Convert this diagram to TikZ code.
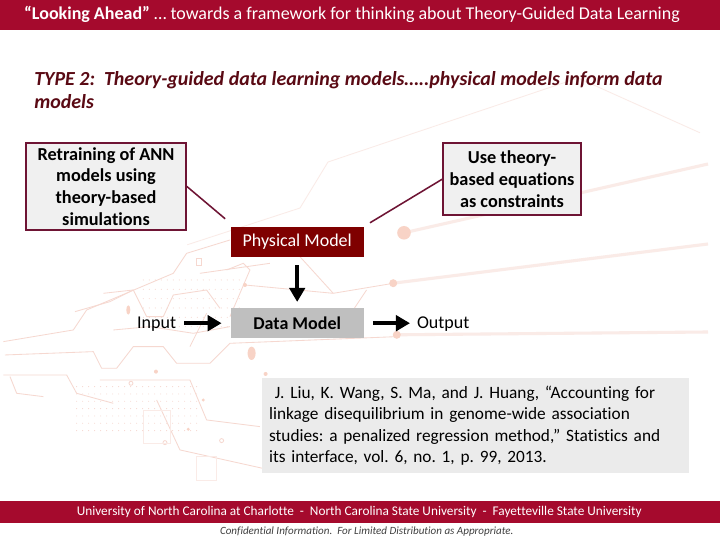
\documentclass[tikz,border=0pt]{standalone}
\usepackage{fontspec}
\setmainfont{Carlito}[Ligatures=NoCommon]
\usetikzlibrary{arrows.meta,positioning}
\definecolor{bandred}{HTML}{A50A2D}
\definecolor{deepred}{HTML}{7F0000}
\definecolor{boxline}{HTML}{6E1434}
\definecolor{typered}{HTML}{5A0A14}
\definecolor{tracepink}{HTML}{F6D8D0}
\definecolor{tracepale}{HTML}{FAEBE7}
\definecolor{padpink}{HTML}{F8D3C6}
\tikzset{
    notebox/.style={draw=boxline,line width=1.1pt,fill=black!6,align=center,font=\bfseries\fontsize{13}{15.4}\selectfont,inner sep=0pt},
    modelbox/.style={minimum width=3.325cm,minimum height=0.75cm,inner sep=0pt,font=\fontsize{12.8}{14}\selectfont},
    plainlabel/.style={font=\fontsize{12.8}{14}\selectfont,inner sep=0pt,text height=8.2pt,text depth=0pt},
    fatarrow/.style={line width=2.6pt,-{Triangle[length=10pt,width=11pt]}},
    noteline/.style={draw=boxline,line width=1.1pt},
    trace/.style={draw=tracepink,line width=0.6pt},
    paletrace/.style={draw=tracepale,line width=0.6pt},
    glow/.style={draw=tracepale,line width=2.2pt},
    pad/.style={fill=padpink}
}
\begin{document}
\begin{tikzpicture}
    \useasboundingbox (0,0) rectangle (18,13.5);
    \fill[white] (0,0) rectangle (18,13.5);
    % tracce di sfondo
    \draw[paletrace] (4.68,7.38) -- (7.5,8.3) -- (8.2,9.45) -- (14.45,11.55) -- (17.5,10.18);
    \draw[glow] (10.1,7.68) -- (17.7,9.4);
    \draw[glow] (9.83,6.42) -- (17.7,7.4);
    \draw[glow] (9.92,5.13) -- (17.7,5.2);
    \begin{scope}[shift={(0,7.75)},x=0.00833cm,y=-0.00833cm]
        \draw[trace] (10,335) -- (220,300) -- (260,240) -- (520,130) -- (560,70) -- (690,30);
        \draw[trace] (15,375) -- (280,365) -- (305,415) -- (350,415) -- (400,350) -- (490,350) -- (530,400) -- (630,400) -- (690,340) -- (1190,320);
        \draw[trace] (10,435) -- (200,435) -- (230,490) -- (340,520);
        \draw[trace] (30,440) -- (50,490) -- (130,500);
        \draw[trace] (310,190) -- (400,180) -- (440,260) -- (490,260) -- (520,195) -- (620,180) -- (660,235);
        \draw[trace] (300,450) -- (570,450) -- (620,570) -- (780,590);
        \draw[trace] (470,510) -- (540,660) -- (810,720);
        \draw[trace] (225,245) -- (330,215) -- (400,180);
        \draw[trace] (340,300) -- (450,290) -- (580,310) -- (690,290);
        \draw[trace] (600,130) -- (810,100);
        \draw[trace] (735,165) -- (1000,190) -- (1180,160);
        \draw[trace] (900,80) -- (1000,190);
        \draw[trace] (1100,180) -- (1060,240);
        \draw[trace] (680,120) -- (730,100) -- (750,120) -- (690,260);
        \draw[trace] (570,350) -- (620,250);
        \draw[trace] (590,85) rectangle (605,105);
        \draw[trace] (393,460) circle (6);
        \draw[trace] (495,638) circle (6);
        \draw[trace] (665,632) circle (6);
        \draw[paletrace] (430,540) rectangle (510,640);
        \draw[paletrace] (590,680) rectangle (650,750);
        \foreach \col in {0,...,20}
            \foreach \row in {0,...,6}
                \fill[tracepink] ({230+\col*18},{470+\row*22}) circle (1.6);
        \foreach \col in {0,...,16}
            \foreach \row in {0,...,5}
                \fill[tracepink] ({430+\col*18},{150+\row*28}) circle (1.6);
        \fill[pad] (385,240) ellipse (6 and 14);
        \fill[pad] (755,370) ellipse (12 and 20);
        \fill[pad] (468,425) circle (6);
        \fill[pad] (735,165) circle (6);
        \fill[pad] (610,510) circle (5);
        \fill[pad] (565,598) circle (5);
        \fill[pad] (797,432) circle (6);
    \end{scope}
    \fill[pad] (10.1,7.68) circle (0.17);
    \fill[pad] (9.83,6.42) circle (0.1);
    \fill[pad] (9.92,5.13) circle (0.1);
    % fasce
    \fill[bandred] (0,12.75) rectangle (18,13.5);
    \fill[bandred] (0,0.43) rectangle (18,0.98);
    \node (headline) [text=white,font=\fontsize{12.8}{14}\selectfont,inner sep=0pt] at (8.8,13.13) {\textbf{“Looking Ahead”} … towards a framework for thinking about Theory-Guided Data Learning};
    \node (partners) [text=white,font=\fontsize{9.45}{11}\selectfont,inner sep=0pt] at (8.98,0.71) {University of North Carolina at Charlotte\ \ -\ \ North Carolina State University\ \ -\ \ Fayetteville State University};
    \node (notice) [text=black!75,font=\itshape\fontsize{7.85}{9}\selectfont,inner sep=0pt] at (9.17,0.22) {Confidential Information.\ \ For Limited Distribution as Appropriate.};
    % titolo
    \node (typetitle) [anchor=north west,align=left,text=typered,font=\bfseries\itshape\fontsize{14.2}{17}\selectfont,inner sep=0pt] at (0.85,11.73) {TYPE 2:\ \ Theory-guided data learning models…..physical models inform data\\models};
    % riquadri
    \node (retrain) [notebox,minimum width=4cm,minimum height=2.175cm] at (2.65,8.84) {Retraining of ANN\\models using\\theory-based\\simulations};
    \node (constraints) [notebox,minimum width=3.45cm,minimum height=1.8cm] at (12.8,9.02) {Use theory-\\based equations\\as constraints};
    \node (physical) [modelbox,fill=deepred,text=white] at (7.43,7.45) {Physical Model};
    \node (datamodel) [modelbox,fill=black!25,font=\bfseries\fontsize{12.8}{14}\selectfont] at (7.43,5.42) {Data Model};
    \node (input) [plainlabel,left=1.35cm of datamodel] {Input};
    \node (output) [plainlabel,right=1.32cm of datamodel] {Output};
    \node (paper) [anchor=north west,fill=black!8,minimum width=10.68cm,minimum height=2.375cm,inner xsep=0.17cm,inner ysep=0.1cm,align=left,font=\fontsize{12.3}{15.2}\selectfont\frenchspacing,text width=10.34cm] at (6.55,4.05) {\ J. Liu, K. Wang, S. Ma, and J. Huang, “Accounting for\\linkage disequilibrium in genome-wide association\\studies: a penalized regression method,” Statistics and\\its interface, vol. 6, no. 1, p. 99, 2013.};
    % collegamenti
    \coordinate (retrainEnd) at (5.63,8.03);
    \coordinate (constraintsEnd) at (9.25,7.93);
    \draw[noteline] (retrain.east) -- (retrainEnd);
    \draw[noteline] (constraints.west) -- (constraintsEnd);
    \draw[fatarrow,shorten <=0.2cm,shorten >=0.15cm] (physical) -- (datamodel);
    \draw[fatarrow,shorten <=0.2cm,shorten >=0.22cm] (input) -- (datamodel);
    \draw[fatarrow,shorten <=0.22cm,shorten >=0.17cm] (datamodel) -- (output);
\end{tikzpicture}
\end{document}
